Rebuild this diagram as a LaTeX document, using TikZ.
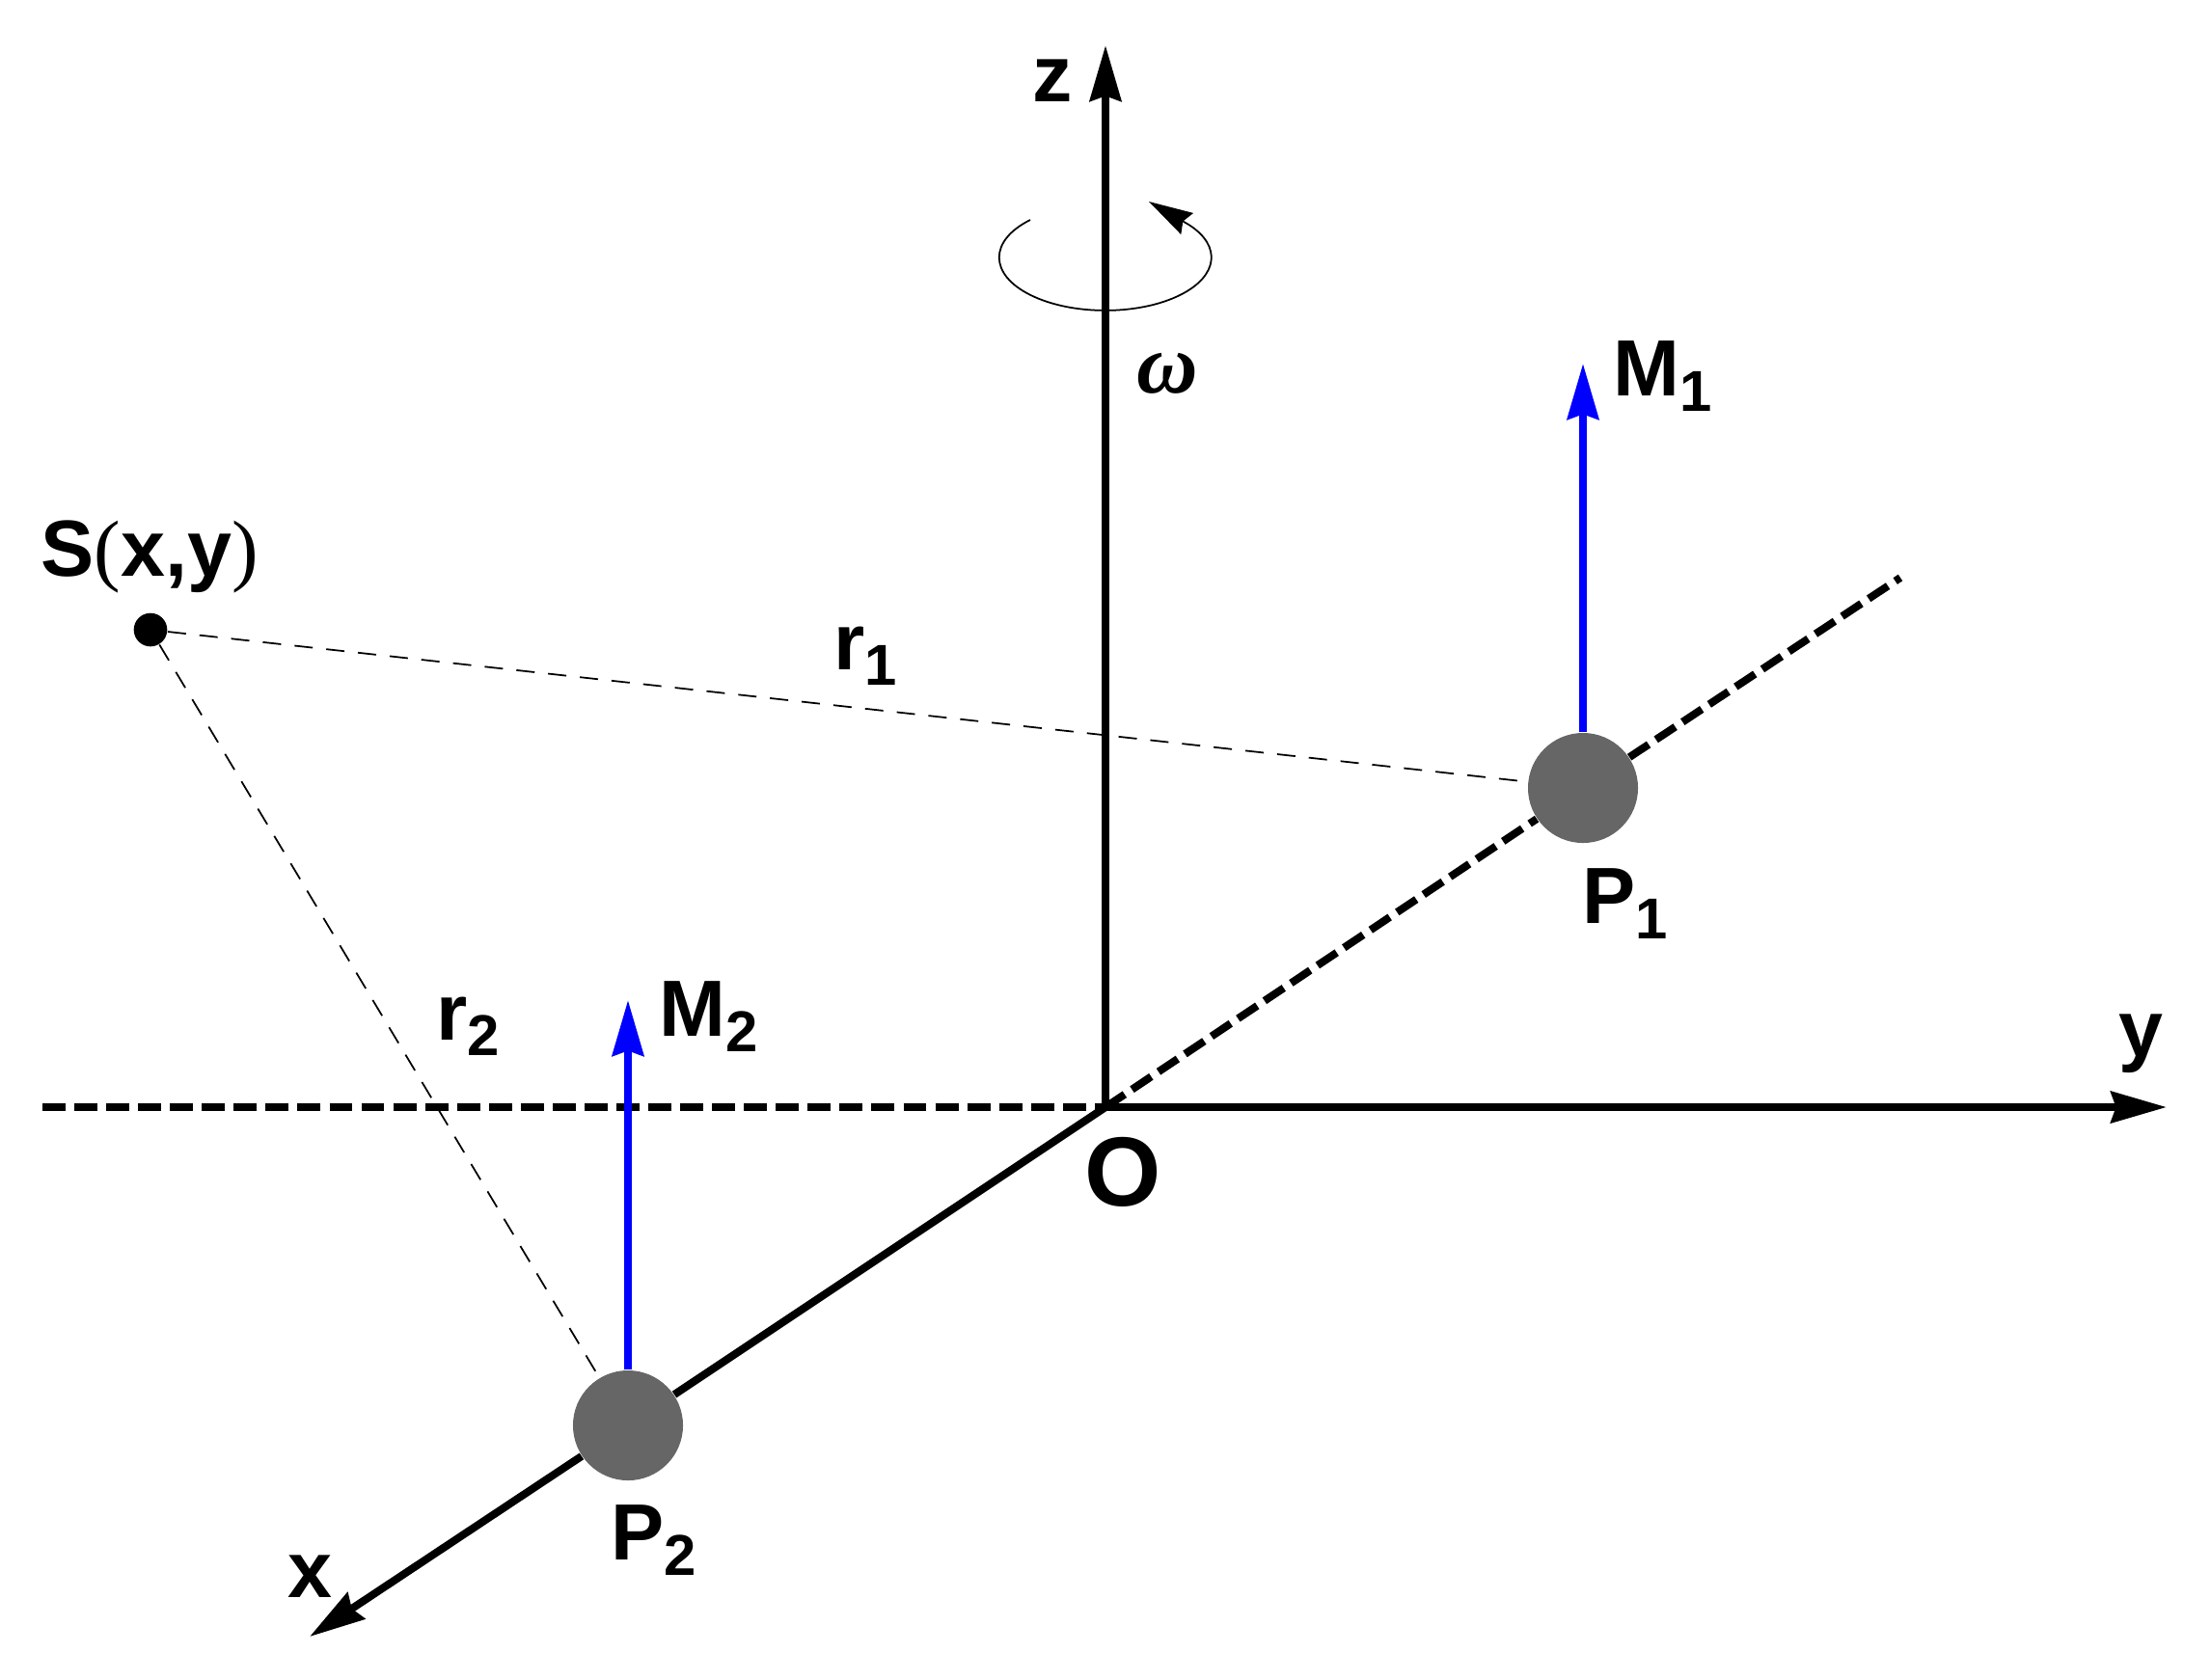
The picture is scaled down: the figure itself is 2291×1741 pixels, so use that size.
\documentclass[tikz,border=0pt]{standalone}
\usepackage{amsmath}
\usepackage{fontspec}
\usetikzlibrary{shapes, positioning, arrows.meta}
\setmainfont{Liberation Sans}
\newfontfamily\serifbits{Liberation Serif}
\newcommand{\lowidx}[1]{\raisebox{-4.6pt}{\fontsize{17}{17}\selectfont #1}}
\newcommand{\thinparen}[1]{{\serifbits\mdseries\fontsize{23.5}{23.5}\selectfont #1}}
\tikzset{
        axis/.style={line width=2.27pt},
        tipped/.style={-{Stealth[length=16.4pt, width=9.2pt, inset=1.5pt]}},
        backaxis/.style={line width=2.27pt, dash pattern=on 6.8pt off 2.6pt},
        moment/.style={line width=2.27pt, blue, tipped},
        thinline/.style={line width=0.5pt, dash pattern=on 5.4pt off 4pt},
        spin/.style={line width=0.5pt, -{Stealth[length=13pt, width=7.2pt, inset=1.4pt]}},
        mass/.style={circle, fill=black!60, minimum size=1.14cm, inner sep=0pt},
        dot/.style={circle, fill=black, minimum size=0.346cm, inner sep=0pt},
        lbl/.style={anchor=base west, inner sep=0pt, font=\bfseries\fontsize{23.5}{23.5}\selectfont}
}
\begin{document}
\begin{tikzpicture}[x=0.01cm, y=-0.01cm]
        \useasboundingbox (0, 0) rectangle (2291, 1741);
        \coordinate (O) at (1146, 1148);
        \coordinate (ztip) at (1146, 47);
        \coordinate (ytip) at (2246, 1148);
        \coordinate (yback) at (44, 1148);
        \coordinate (xtip) at (321, 1697);
        \coordinate (xback) at (1970, 599);
        \coordinate (m1tip) at (1641, 377);
        \coordinate (m2tip) at (651, 1037);
        \coordinate (spintip) at (1191, 209);
        \node[mass] (P1) at (1641, 817) {};
        \node[mass] (P2) at (651, 1478) {};
        \node[dot] (S) at (156, 653) {};

        \draw[axis, tipped] (O) to (ztip);
        \draw[axis, tipped] (O) to (ytip);
        \draw[axis] (O) to (P2);
        \draw[axis, tipped] (P2) to (xtip);
        \draw[backaxis] (yback) to (O);
        \draw[backaxis] (O) to (P1);
        \draw[backaxis] (P1) to (xback);
        \draw[moment] (P1) to (m1tip);
        \draw[moment] (P2) to (m2tip);
        \draw[thinline] (S) to (P1);
        \draw[thinline] (S) to (P2);
        \draw[spin] (1068, 228) arc[start angle=135, end angle=398, x radius=110, y radius=-55] -- (spintip);

        \node[lbl] (lz) at (1070, 105) {z};
        \node[lbl] (ly) at (2196, 1095) {y};
        \node[lbl] (lx) at (298, 1656) {x};
        \node[lbl, font=\bfseries\fontsize{29}{29}\selectfont] (lO) at (1124, 1250) {O};
        \node[lbl] (lw) at (1178, 407) {\serifbits\itshape\fontsize{25}{25}\selectfont ω};
        \node[lbl] (lS) at (42, 597) {S\thinparen{(}x,y\thinparen{)}};
        \node[lbl] (lM1) at (1672, 410) {M\lowidx{1}};
        \node[lbl] (lM2) at (683, 1074) {M\lowidx{2}};
        \node[lbl] (lP1) at (1640, 957) {P\lowidx{1}};
        \node[lbl] (lP2) at (633, 1617) {P\lowidx{2}};
        \node[lbl] (lr1) at (864, 694) {r\lowidx{1}};
        \node[lbl] (lr2) at (452, 1078) {r\lowidx{2}};
\end{tikzpicture}
\end{document}
